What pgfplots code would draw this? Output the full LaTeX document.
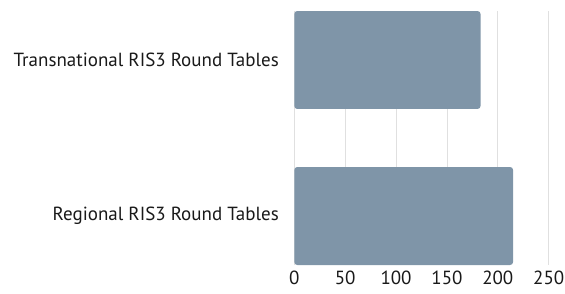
\documentclass[border=0pt]{standalone}
\usepackage{pgfplots}
\pgfplotsset{compat=1.18}
\usepackage{fontspec}
\setmainfont{PT Sans}
\definecolor{barc}{RGB}{127,149,168}
\begin{document}
\begin{tikzpicture}
\useasboundingbox (0,0) rectangle (565pt,293pt);
\begin{axis}[
  at={(294.3pt,28pt)}, anchor=south west,
  xbar, scale only axis, width=254.4pt, height=254pt,
  xmin=0, xmax=250, ymin=-0.314, ymax=1.314,
  bar width=98pt,
  ytick={0,1},
  yticklabels={Regional RIS3 Round Tables, Transnational RIS3 Round Tables},
  xtick={0,50,...,250},
  axis line style={draw=none}, major tick length=0pt,
  xmajorgrids, grid style={black!12, line width=0.8pt},
  tick label style={font=\fontsize{19}{22}\selectfont, text=black!90},
  /pgf/number format/assume math mode=true,
  yticklabel style={xshift=-12pt},
  xticklabel style={yshift=-2pt},
]
\addplot[fill=barc, draw=none, rounded corners=3pt] coordinates {(215,0) (183,1)};
\end{axis}
\end{tikzpicture}
\end{document}
